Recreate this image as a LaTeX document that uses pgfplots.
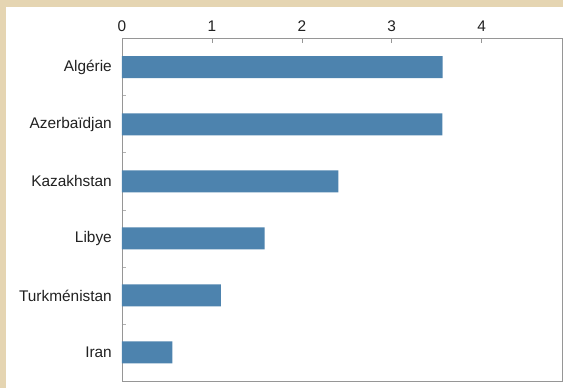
\documentclass[border=0pt]{standalone}
\usepackage{fontspec}
\setmainfont{Liberation Sans}
\usepackage{pgfplots}
\pgfplotsset{compat=1.18}
\definecolor{barblue}{RGB}{77,131,174}
\definecolor{beige}{RGB}{229,213,178}
\definecolor{axgray}{RGB}{150,150,150}
\begin{document}
\begin{tikzpicture}
\fill[beige] (-122pt,-7pt) rectangle (441pt,381pt);
\fill[white] (-116pt,-7pt) rectangle (441pt,374pt);
\begin{axis}[
  at={(0pt,0pt)}, anchor=south west,
  scale only axis, width=440pt, height=342.3pt,
  xmin=0, xmax=4.894, ymin=-0.5, ymax=5.5,
  xbar, bar width=22pt,
  axis line style={axgray, line width=0.9pt},
  /pgf/number format/assume math mode=true,
  xtick={0,1,2,3,4}, xtick pos=right, xticklabel pos=right,
  tick align=inside,
  major tick length=4.5pt,
  xtick style={axgray, line width=0.6pt},
  ytick={0.5,1.5,2.5,3.5,4.5}, yticklabels={}, ytick pos=left,
  ytick style={black!30, line width=0.6pt},
  extra y ticks={0,1,2,3,4,5},
  extra y tick labels={Iran,Turkménistan,Libye,Kazakhstan,Azerbaïdjan,Algérie},
  extra y tick style={major tick length=0pt, tick style={draw=none}},
  tick label style={font=\fontsize{15.4}{18}\selectfont, text=black!87},
  xticklabel style={inner sep=0pt, yshift=7pt},
  yticklabel style={inner sep=0pt, xshift=-10pt},
]
\addplot[fill=barblue, draw=none] coordinates {
  (0.56,0) (1.10,1) (1.587,2) (2.406,3) (3.563,4) (3.567,5)
};
\end{axis}
\pgfresetboundingbox
\path (-122pt,-7pt) rectangle (441pt,381pt);
\end{tikzpicture}
\end{document}
